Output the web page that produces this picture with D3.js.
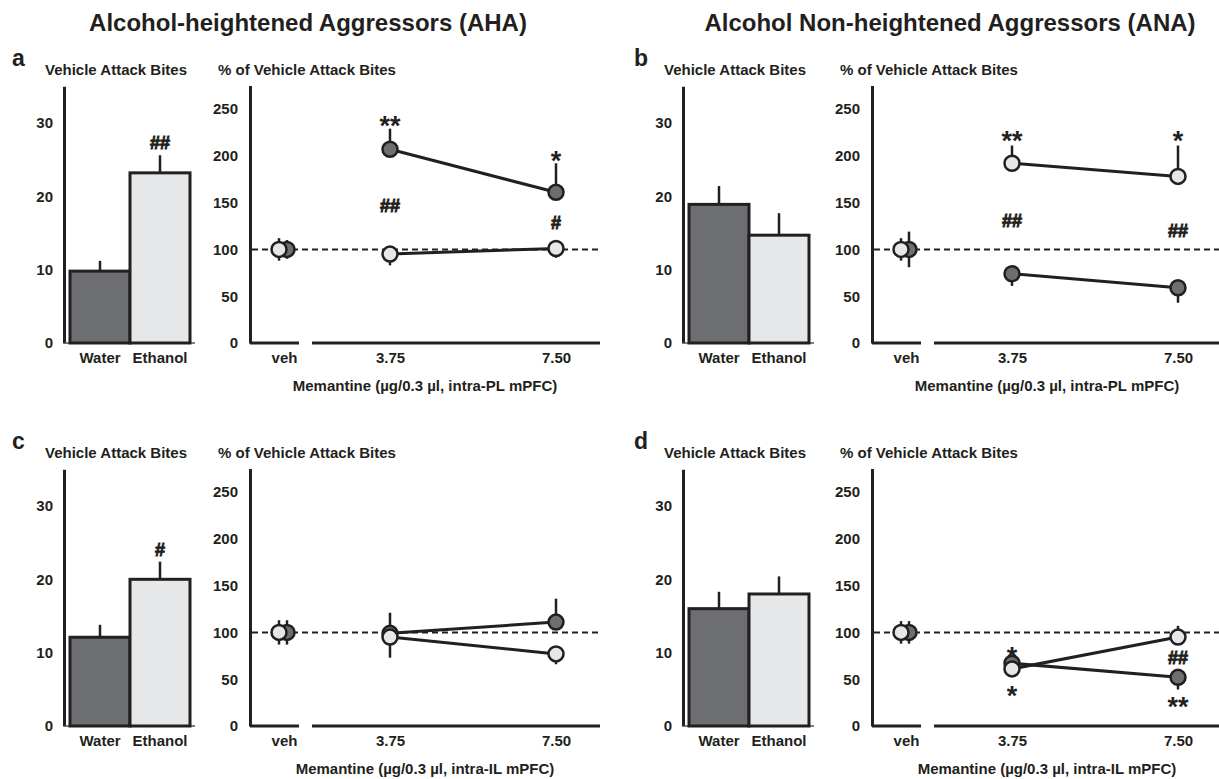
<!DOCTYPE html>
<html>
<head>
<meta charset="utf-8">
<script src="https://cdn.jsdelivr.net/npm/d3@7/dist/d3.min.js"></script>
<style>
  html, body { margin: 0; padding: 0; background: #fff; }
  svg text { font-family: "Liberation Sans", Arial, Helvetica, sans-serif; font-weight: bold; fill: #231f20; }
</style>
</head>
<body>
<svg id="chart" width="1219" height="779"></svg>
<script>
// ---------- DATA ----------
const groupTitles = ["Alcohol-heightened Aggressors (AHA)", "Alcohol Non-heightened Aggressors (ANA)"];
const panelLetters = ["a", "b", "c", "d"];
const barCategories = ["Water", "Ethanol"];
const barTicks = [0, 10, 20, 30];
const lineTicks = [0, 50, 100, 150, 200, 250];
const doseLabels = ["veh", "3.75", "7.50"];
const barSubtitle = "Vehicle Attack Bites";
const lineSubtitle = "% of Vehicle Attack Bites";
const xTitles = ["Memantine (\u00b5g/0.3 \u00b5l, intra-PL mPFC)", "Memantine (\u00b5g/0.3 \u00b5l, intra-PL mPFC)",
                 "Memantine (\u00b5g/0.3 \u00b5l, intra-IL mPFC)", "Memantine (\u00b5g/0.3 \u00b5l, intra-IL mPFC)"];

// Bar panels: Vehicle attack bites (Water, Ethanol)
const barValues = [[9.8, 23.2], [18.9, 14.7], [12.1, 20.0], [16.0, 18.0]];
const barErrors = [[1.4, 2.4], [2.5, 3.0], [1.7, 2.4], [2.3, 2.4]];
const barMarks  = [["", "##"], ["", ""], ["", "#"], ["", ""]];

// Line panels: % of vehicle attack bites, water (dark) series
const waterValues  = [[100, 207, 161], [100, 74, 59], [100, 99, 111], [100, 67, 52]];
const waterErrUp   = [[10, 22, 31], [19, 0, 0], [13, 22, 25], [12, 0, 0]];
const waterErrDown = [[10, 0, 0], [19, 13, 16], [13, 0, 0], [12, 0, 13]];
// ethanol (light) series
const ethanolValues  = [[100, 95, 101], [100, 192, 178], [100, 95, 77], [100, 61, 95]];
const ethanolErrUp   = [[12, 0, 0], [12, 19, 33], [13, 0, 0], [12, 0, 12]];
const ethanolErrDown = [[12, 12, 10], [12, 0, 0], [13, 22, 11], [12, 0, 0]];
// significance marks: [text, dose, level (% units)]
const lineMarks = [
  [["**", "3.75", 240], ["*", "7.50", 203], ["##", "3.75", 147], ["#", "7.50", 129]],
  [["**", "3.75", 224], ["*", "7.50", 224], ["##", "3.75", 131], ["##", "7.50", 120]],
  [],
  [["*", "3.75", 82], ["*", "3.75", 40], ["##", "7.50", 73], ["**", "7.50", 29]]
];

// ---------- LAYOUT ----------
const ink = "#231f20", darkFill = "#6d6e71", lightFill = "#e6e7e8";
const tickFs = 15, subFs = 15, titleFs = 24, starFs = 27, hashFs = 18;
const panels = [
  { barX: 64,  lineX: 250, y0: 343 },
  { barX: 683, lineX: 872, y0: 343 },
  { barX: 64,  lineX: 250, y0: 726 },
  { barX: 683, lineX: 872, y0: 726 }
];
const svg = d3.select("#chart");

// group titles
svg.append("text").attr("x", 308).attr("y", 31).attr("text-anchor", "middle")
  .style("font-size", titleFs + "px").text(groupTitles[0]);
svg.append("text").attr("x", 950).attr("y", 31).attr("text-anchor", "middle")
  .style("font-size", titleFs + "px").text(groupTitles[1]);

const isStar = t => t.indexOf("*") >= 0;
function markOffset(t) { return isStar(t) ? 0.62 * starFs : 0.36 * hashFs; }
function styleMark(sel) {
  sel.attr("stroke", ink).attr("stroke-width", d => 0.9);
}

panels.forEach((p, i) => {
  const g = svg.append("g");
  const letterX = p.barX < 300 ? 12 : 634;
  g.append("text").attr("x", letterX).attr("y", p.y0 - 277).style("font-size", "23px").text(panelLetters[i]);

  // ---- bar chart ----
  const by = d3.scaleLinear().domain([0, 35]).range([p.y0, p.y0 - 256.7]);
  const bx = d3.scaleBand().domain(barCategories).range([p.barX + 6, p.barX + 126]).padding(0);
  g.append("text").attr("x", p.barX - 19).attr("y", p.y0 - 268).style("font-size", subFs + "px").text(barSubtitle);

  const yAxB = g.append("g").attr("transform", `translate(${p.barX},0)`)
    .call(d3.axisLeft(by).tickValues(barTicks).tickSize(0).tickPadding(11).tickFormat(d3.format("d")));
  yAxB.select(".domain").attr("stroke", ink).attr("stroke-width", 3);
  yAxB.selectAll("text").style("font-size", tickFs + "px").attr("fill", ink).style("font-family", null);

  g.append("line").attr("x1", p.barX).attr("x2", p.barX + 131).attr("y1", p.y0).attr("y2", p.y0)
    .attr("stroke", "#555").attr("stroke-width", 1.5);

  const xAxB = g.append("g").attr("transform", `translate(0,${p.y0})`)
    .call(d3.axisBottom(bx).tickSize(0).tickPadding(9));
  xAxB.select(".domain").remove();
  xAxB.selectAll("text").style("font-size", tickFs + "px").attr("fill", ink).style("font-family", null);

  // error bars (up only)
  g.selectAll(".berr").data(barCategories).join("line")
    .attr("x1", d => bx(d) + bx.bandwidth() / 2).attr("x2", d => bx(d) + bx.bandwidth() / 2)
    .attr("y1", (d, j) => by(barValues[i][j])).attr("y2", (d, j) => by(barValues[i][j] + barErrors[i][j]))
    .attr("stroke", ink).attr("stroke-width", 2.5);
  g.selectAll(".bar").data(barCategories).join("rect")
    .attr("x", d => bx(d)).attr("width", bx.bandwidth())
    .attr("y", (d, j) => by(barValues[i][j])).attr("height", (d, j) => p.y0 - by(barValues[i][j]))
    .attr("fill", (d, j) => j === 0 ? darkFill : lightFill)
    .attr("stroke", ink).attr("stroke-width", 3);
  g.selectAll(".bmark").data(barCategories).join("text")
    .attr("x", d => bx(d) + bx.bandwidth() / 2)
    .attr("y", (d, j) => by(barValues[i][j] + barErrors[i][j]) - 6)
    .attr("text-anchor", "middle").style("font-size", hashFs + "px")
    .text((d, j) => barMarks[i][j])
    .call(styleMark);

  // ---- line chart ----
  const ly = d3.scaleLinear().domain([0, 275]).range([p.y0, p.y0 - 257.4]);
  const lx = d3.scaleOrdinal().domain(doseLabels).range([p.lineX + 34, p.lineX + 140, p.lineX + 306]);
  const right = p.lineX + 350;
  g.append("text").attr("x", p.lineX - 32).attr("y", p.y0 - 268).style("font-size", subFs + "px").text(lineSubtitle);

  const yAxL = g.append("g").attr("transform", `translate(${p.lineX},0)`)
    .call(d3.axisLeft(ly).tickValues(lineTicks).tickSize(0).tickPadding(12).tickFormat(d3.format("d")));
  yAxL.select(".domain").attr("stroke", ink).attr("stroke-width", 3);
  yAxL.selectAll("text").style("font-size", tickFs + "px").attr("fill", ink).style("font-family", null);

  // broken x baseline
  g.append("line").attr("x1", p.lineX).attr("x2", p.lineX + 49).attr("y1", p.y0).attr("y2", p.y0)
    .attr("stroke", ink).attr("stroke-width", 3);
  g.append("line").attr("x1", p.lineX + 62).attr("x2", right).attr("y1", p.y0).attr("y2", p.y0)
    .attr("stroke", ink).attr("stroke-width", 3);
  const xAxL = g.append("g").attr("transform", `translate(0,${p.y0})`)
    .call(d3.axisBottom(lx).tickSize(0).tickPadding(9));
  xAxL.select(".domain").remove();
  xAxL.selectAll("text").style("font-size", tickFs + "px").attr("fill", ink).style("font-family", null);

  g.append("text").attr("x", p.lineX + 175).attr("y", p.y0 + 48).attr("text-anchor", "middle")
    .style("font-size", "15px").text(xTitles[i]);

  // dashed reference line at 100 %
  g.append("line").attr("x1", p.lineX + 2).attr("x2", right).attr("y1", ly(100)).attr("y2", ly(100))
    .attr("stroke", ink).attr("stroke-width", 2).attr("stroke-dasharray", "6,4");

  const series = [
    { vals: waterValues[i], up: waterErrUp[i], dn: waterErrDown[i], fill: darkFill, vehShift: 3 },
    { vals: ethanolValues[i], up: ethanolErrUp[i], dn: ethanolErrDown[i], fill: lightFill, vehShift: -5 }
  ];
  const px = (s, d) => lx(d) + (d === "veh" ? s.vehShift : 0);
  const lineGen = d3.line().x(d => d[0]).y(d => d[1]);

  series.forEach(s => {
    const pts = doseLabels.map((d, j) => ({ d, v: s.vals[j], up: s.up[j], dn: s.dn[j] }));
    g.selectAll(null).data(pts).join("line")
      .attr("x1", d => px(s, d.d)).attr("x2", d => px(s, d.d))
      .attr("y1", d => ly(d.v - d.dn)).attr("y2", d => ly(d.v + d.up))
      .attr("stroke", ink).attr("stroke-width", 2.5);
    g.append("path")
      .attr("d", lineGen(pts.filter(d => d.d !== "veh").map(d => [px(s, d.d), ly(d.v)])))
      .attr("fill", "none").attr("stroke", ink).attr("stroke-width", 3);
  });
  series.forEach(s => {
    const pts = doseLabels.map((d, j) => ({ d, v: s.vals[j] }));
    g.selectAll(null).data(pts).join("circle")
      .attr("cx", d => px(s, d.d)).attr("cy", d => ly(d.v)).attr("r", 7.5)
      .attr("fill", s.fill).attr("stroke", ink).attr("stroke-width", 2.5);
  });

  // significance marks
  g.selectAll(null).data(lineMarks[i]).join("text")
    .attr("x", d => lx(d[1]))
    .attr("y", d => ly(d[2]) + markOffset(d[0]))
    .attr("text-anchor", "middle")
    .style("font-size", d => (isStar(d[0]) ? starFs : hashFs) + "px")
    .text(d => d[0])
    .filter(d => !isStar(d[0])).call(styleMark);
});
</script>
</body>
</html>
